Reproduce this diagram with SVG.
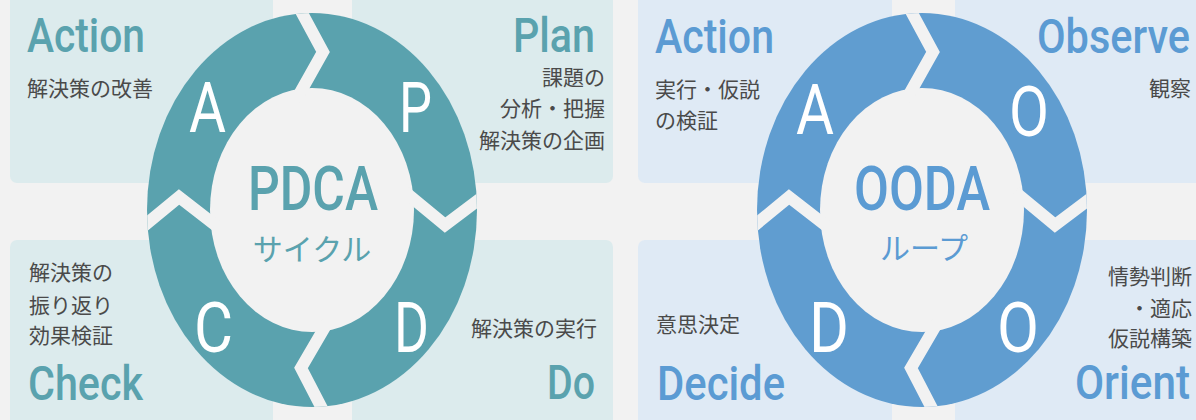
<svg xmlns="http://www.w3.org/2000/svg" width="1196" height="420" viewBox="0 0 1196 420">
  <style>
    .bg { fill: #f2f2f2; }
    .panel-t { fill: #dcebed; }
    .panel-b { fill: #dfeaf5; }
    .head { font-family: Roboto, "Liberation Sans", sans-serif; font-size: 48px; font-weight: 500; }
    .head-t { fill: #5aa2ae; }
    .head-b { fill: #5b9bd3; }
    .body { font-family: "Noto Sans CJK JP", "Noto Sans", sans-serif; font-size: 21px; fill: #4a4a4a; }
    .letter { font-family: Roboto, "Liberation Sans", sans-serif; font-size: 70px; fill: #ffffff; }
    .core { font-family: Roboto, "Liberation Sans", sans-serif; font-size: 62px; font-weight: 500; }
    .core-jp { font-family: "Noto Sans CJK JP", sans-serif; font-size: 30px; text-anchor: middle; }
    .gap { fill: none; stroke: #f2f2f2; stroke-width: 12; stroke-linejoin: miter; stroke-miterlimit: 10; }
    .end { text-anchor: end; }
  </style>
  <defs>
    <clipPath id="clip-pdca"><ellipse cx="312" cy="210" rx="165" ry="197"/></clipPath>
    <clipPath id="clip-ooda"><ellipse cx="922" cy="210" rx="165" ry="197"/></clipPath>
  </defs>

  <rect class="bg" x="0" y="0" width="1196" height="420"/>

  <!-- PDCA cycle: four quarter panels -->
  <g id="pdca-action">
    <rect class="panel-t" x="10" y="-10" width="263" height="193" rx="7"/>
    <text class="head head-t" x="27" y="52" textLength="118" lengthAdjust="spacingAndGlyphs">Action</text>
    <text class="body" x="27" y="96">解決策の改善</text>
  </g>
  <g id="pdca-plan">
    <rect class="panel-t" x="352" y="-10" width="261" height="193" rx="7"/>
    <text class="head head-t" x="513" y="52" textLength="82" lengthAdjust="spacingAndGlyphs">Plan</text>
    <text class="body end" x="605" y="85">課題の</text>
    <text class="body end" x="605" y="116">分析・把握</text>
    <text class="body end" x="605" y="148">解決策の企画</text>
  </g>
  <g id="pdca-check">
    <rect class="panel-t" x="10" y="240" width="263" height="190" rx="7"/>
    <text class="body" x="29" y="280">解決策の</text>
    <text class="body" x="29" y="313">振り返り</text>
    <text class="body" x="29" y="343">効果検証</text>
    <text class="head head-t" x="28" y="400" textLength="115" lengthAdjust="spacingAndGlyphs">Check</text>
  </g>
  <g id="pdca-do">
    <rect class="panel-t" x="352" y="240" width="261" height="190" rx="7"/>
    <text class="body end" x="597" y="336">解決策の実行</text>
    <text class="head head-t" x="547" y="399" textLength="48" lengthAdjust="spacingAndGlyphs">Do</text>
  </g>

  <!-- OODA loop: four quarter panels -->
  <g id="ooda-action">
    <rect class="panel-b" x="638" y="-10" width="254" height="193" rx="7"/>
    <text class="head head-b" x="655" y="53" textLength="119" lengthAdjust="spacingAndGlyphs">Action</text>
    <text class="body" x="655" y="97">実行・仮説</text>
    <text class="body" x="655" y="128">の検証</text>
  </g>
  <g id="ooda-observe">
    <rect class="panel-b" x="955" y="-10" width="260" height="193" rx="7"/>
    <text class="head head-b" x="1037" y="53" textLength="153" lengthAdjust="spacingAndGlyphs">Observe</text>
    <text class="body end" x="1191" y="96">観察</text>
  </g>
  <g id="ooda-decide">
    <rect class="panel-b" x="638" y="240" width="254" height="190" rx="7"/>
    <text class="body" x="656" y="332">意思決定</text>
    <text class="head head-b" x="657" y="400" textLength="128" lengthAdjust="spacingAndGlyphs">Decide</text>
  </g>
  <g id="ooda-orient">
    <rect class="panel-b" x="955" y="240" width="260" height="190" rx="7"/>
    <text class="body end" x="1192" y="284">情勢判断</text>
    <text class="body end" x="1192" y="316">・適応</text>
    <text class="body end" x="1192" y="346">仮説構築</text>
    <text class="head head-b" x="1075" y="399" textLength="115" lengthAdjust="spacingAndGlyphs">Orient</text>
  </g>

  <!-- PDCA ring -->
  <g id="pdca-ring">
    <ellipse cx="312" cy="210" rx="165" ry="197" fill="#5aa2ae"/>
    <ellipse cx="312" cy="210" rx="102" ry="122" fill="#f2f2f2"/>
    <text class="letter" x="189" y="132" textLength="37" lengthAdjust="spacingAndGlyphs">A</text>
    <text class="letter" x="399" y="132" textLength="33" lengthAdjust="spacingAndGlyphs">P</text>
    <text class="letter" x="194" y="352" textLength="39" lengthAdjust="spacingAndGlyphs">C</text>
    <text class="letter" x="394" y="352" textLength="35" lengthAdjust="spacingAndGlyphs">D</text>
    <text class="core head-t" x="248" y="210" textLength="130" lengthAdjust="spacingAndGlyphs">PDCA</text>
    <text class="core-jp head-t" x="312" y="260">サイクル</text>
  </g>

  <!-- OODA ring -->
  <g id="ooda-ring">
    <ellipse cx="922" cy="210" rx="165" ry="197" fill="#609dd0"/>
    <ellipse cx="922" cy="210" rx="102" ry="122" fill="#f2f2f2"/>
    <text class="letter" x="796" y="134" textLength="38" lengthAdjust="spacingAndGlyphs">A</text>
    <text class="letter" x="1009" y="136" textLength="40" lengthAdjust="spacingAndGlyphs">O</text>
    <text class="letter" x="809" y="352" textLength="40" lengthAdjust="spacingAndGlyphs">D</text>
    <text class="letter" x="997" y="352" textLength="42" lengthAdjust="spacingAndGlyphs">O</text>
    <text class="core head-b" x="854" y="210" textLength="136" lengthAdjust="spacingAndGlyphs">OODA</text>
    <text class="core-jp head-b" x="924" y="259">ループ</text>
  </g>

  <!-- Chevron gaps marking the clockwise flow between stages -->
  <g id="connectors">
    <g clip-path="url(#clip-pdca)">
      <polyline class="gap" points="295,0 323,52 296,100"/>
      <polyline class="gap" points="405,192 445,225 485,195"/>
      <polyline class="gap" points="329,320 301,368 328,420"/>
      <polyline class="gap" points="139,230 179,197 219,228"/>
    </g>
    <g clip-path="url(#clip-ooda)">
      <polyline class="gap" points="905,0 933,52 906,100"/>
      <polyline class="gap" points="1015,192 1055,225 1095,195"/>
      <polyline class="gap" points="939,320 911,368 938,420"/>
      <polyline class="gap" points="749,230 789,197 829,228"/>
    </g>
  </g>
</svg>
